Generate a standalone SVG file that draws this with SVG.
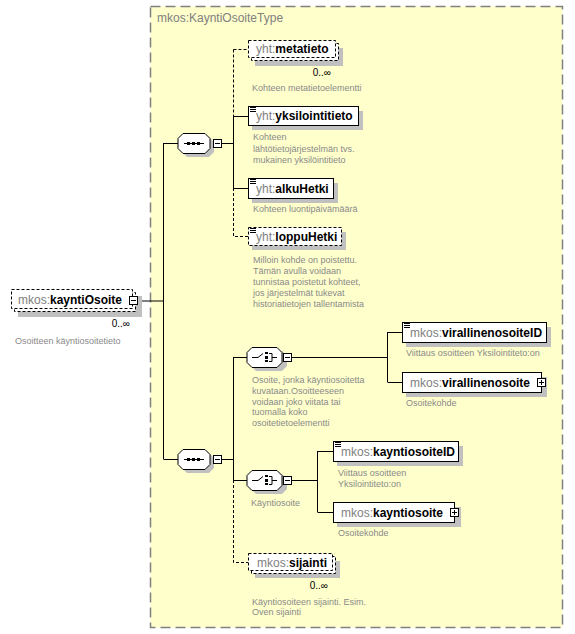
<svg xmlns="http://www.w3.org/2000/svg" width="575" height="634" viewBox="0 0 575 634">
<defs>
<style>
.bg{fill:#ffffff}
.typebox{fill:#FFFFCC;stroke:#808080;stroke-width:1.5;stroke-dasharray:10,5}
.tlabel{font:12px "Liberation Sans",Arial,sans-serif;fill:#808080}
.box{fill:#ffffff;stroke:#000000;stroke-width:1}
.dbox{fill:#ffffff;stroke:#000000;stroke-width:1;stroke-dasharray:3,2}
.shadow{fill:#c0c0c0}
.nm{font:bold 12px "Liberation Sans",Arial,sans-serif;fill:#000000}
.pfx{font-weight:normal;fill:#808080}
.desc{font:9px "Liberation Sans",Arial,sans-serif;fill:#8a8a8a}
.occ{font:10px "Liberation Sans",Arial,sans-serif;fill:#000000}
.conn{stroke:#000000;stroke-width:1;fill:none}
.dash{stroke-dasharray:3,2}
.ico{stroke:#000000;stroke-width:1;fill:none}
.dot{fill:#000000}
</style>
</defs>
<rect class="bg" x="0" y="0" width="575" height="634"/>

<g id="type-KayntiOsoiteType">
<rect class="typebox" x="150.5" y="6.5" width="412" height="621"/>
<text class="tlabel" x="157" y="22">mkos:KayntiOsoiteType</text>
</g>

<g id="connectors">
<path class="conn" d="M138.5 301H163.5M163.5 143V459M163.5 143.5H178M163.5 459.5H178"/>
<path class="conn" d="M210 143.5H213.5M221.5 143.5H233.5M233.5 116V188M233.5 116.5H248M233.5 188.5H248"/>
<path class="conn dash" d="M233.5 49.5V116M233.5 49.5H248M233.5 188V236.5H248"/>
<path class="conn" d="M210 459.5H213.5M221.5 459.5H233.5M233.5 357V480M233.5 357.5H247M233.5 480.5H247"/>
<path class="conn dash" d="M233.5 480V562.5H248"/>
<path class="conn" d="M282 357.5H283.5M291.5 357.5H387.5M387.5 332V382M387.5 332.5H402M387.5 382.5H402"/>
<path class="conn" d="M282 480.5H283.5M291.5 480.5H317.5M317.5 451V512M317.5 451.5H333M317.5 512.5H333"/>
</g>

<g id="el-kayntiOsoite">
<rect class="shadow" x="18" y="296" width="124" height="21"/>
<rect class="dbox" x="14.5" y="292.5" width="121" height="19"/>
<rect class="dbox" x="11.5" y="289.5" width="121" height="19"/>
<text class="nm" x="18" y="304"><tspan class="pfx">mkos:</tspan>kayntiOsoite</text>
<rect class="box" x="129.5" y="296.5" width="8" height="8"/>
<path class="ico" d="M131 300.5H136"/>
<text class="occ" x="130" y="327" text-anchor="end">0..∞</text>
<text class="desc" x="15" y="344">Osoitteen käyntiosoitetieto</text>
</g>

<g id="seq-1">
<path class="shadow" d="M187 137H209L214 142V152L209 157H187L182 152V142Z"/>
<path class="box" d="M183 133.5H205L210 138.5V148.5L205 153.5H183L178 148.5V138.5Z"/>
<path class="ico" d="M184 143.5H204"/>
<rect class="dot" x="187" y="142" width="3" height="3"/>
<rect class="dot" x="192" y="142" width="3" height="3"/>
<rect class="dot" x="197" y="142" width="3" height="3"/>
<rect class="box" x="213.5" y="139.5" width="8" height="8"/>
<path class="ico" d="M215 143.5H220"/>
</g>

<g id="el-metatieto">
<rect class="shadow" x="255" y="48" width="88" height="18"/>
<rect class="dbox" x="251.5" y="43.5" width="87" height="17"/>
<rect class="dbox" x="248.5" y="40.5" width="87" height="17"/>
<text class="nm" x="256" y="53"><tspan class="pfx">yht:</tspan>metatieto</text>
<text class="occ" x="331" y="76" text-anchor="end">0..∞</text>
<text class="desc" x="252" y="91">Kohteen metatietoelementti</text>
</g>

<g id="el-yksilointitieto">
<rect class="shadow" x="252" y="111" width="111" height="19"/>
<rect class="box" x="248.5" y="106.5" width="110" height="19"/>
<path class="ico" d="M250 107.5H256M250 109.5H256M250 111.5H256"/>
<text class="nm" x="256" y="120"><tspan class="pfx">yht:</tspan>yksilointitieto</text>
<text class="desc" x="253" y="140">Kohteen</text>
<text class="desc" x="253" y="152">lähtötietojärjestelmän  tvs.</text>
<text class="desc" x="253" y="163">mukainen yksilöintitieto</text>
</g>

<g id="el-alkuHetki">
<rect class="shadow" x="252" y="183" width="86" height="20"/>
<rect class="box" x="248.5" y="178.5" width="85" height="20"/>
<path class="ico" d="M250 179.5H256M250 181.5H256M250 183.5H256"/>
<text class="nm" x="256" y="193"><tspan class="pfx">yht:</tspan>alkuHetki</text>
<text class="desc" x="253" y="212">Kohteen luontipäivämäärä</text>
</g>

<g id="el-loppuHetki">
<rect class="shadow" x="252" y="232" width="94" height="18"/>
<rect class="dbox" x="248.5" y="227.5" width="93" height="18"/>
<path class="ico" d="M250 228.5H256M250 230.5H256M250 232.5H256"/>
<text class="nm" x="256" y="241"><tspan class="pfx">yht:</tspan>loppuHetki</text>
<text class="desc" x="253" y="263">Milloin kohde on poistettu.</text>
<text class="desc" x="253" y="274">Tämän avulla voidaan</text>
<text class="desc" x="253" y="285">tunnistaa poistetut kohteet,</text>
<text class="desc" x="253" y="296">jos järjestelmät tukevat</text>
<text class="desc" x="253" y="307">historiatietojen tallentamista</text>
</g>

<g id="seq-2">
<path class="shadow" d="M187 453H209L214 458V468L209 473H187L182 468V458Z"/>
<path class="box" d="M183 449.5H205L210 454.5V464.5L205 469.5H183L178 464.5V454.5Z"/>
<path class="ico" d="M184 459.5H204"/>
<rect class="dot" x="187" y="458" width="3" height="3"/>
<rect class="dot" x="192" y="458" width="3" height="3"/>
<rect class="dot" x="197" y="458" width="3" height="3"/>
<rect class="box" x="213.5" y="455.5" width="8" height="8"/>
<path class="ico" d="M215 459.5H220"/>
</g>

<g id="choice-1">
<path class="shadow" d="M256 351H282L287 356V366L282 371H256L251 366V356Z"/>
<path class="box" d="M252 347.5H277L282 352.5V362.5L277 367.5H252L247 362.5V352.5Z"/>
<path class="ico" d="M252 357.5H258L263 353.5M269 353.5H272V361.5H269M272 357.5H277"/>
<rect class="dot" x="265" y="352" width="3" height="2"/>
<rect class="dot" x="265" y="356" width="3" height="3"/>
<rect class="dot" x="265" y="360" width="3" height="2"/>
<rect class="box" x="283.5" y="353.5" width="8" height="8"/>
<path class="ico" d="M285 357.5H290"/>
<text class="desc" x="252" y="383">Osoite, jonka käyntiosoitetta</text>
<text class="desc" x="252" y="394">kuvataan.Osoitteeseen</text>
<text class="desc" x="252" y="405">voidaan joko viitata tai</text>
<text class="desc" x="252" y="415">tuomalla koko</text>
<text class="desc" x="252" y="426">osoitetietoelementti</text>
</g>

<g id="el-virallinenosoiteID">
<rect class="shadow" x="406" y="327" width="145" height="20"/>
<rect class="box" x="402.5" y="322.5" width="144" height="20"/>
<path class="ico" d="M404 323.5H410M404 325.5H410M404 327.5H410"/>
<text class="nm" x="410" y="337"><tspan class="pfx">mkos:</tspan>virallinenosoiteID</text>
<text class="desc" x="406" y="356">Viittaus osoitteen Yksilointiteto:on</text>
</g>

<g id="el-virallinenosoite">
<rect class="shadow" x="406" y="377" width="141" height="20"/>
<rect class="box" x="402.5" y="372.5" width="139" height="20"/>
<text class="nm" x="410" y="387"><tspan class="pfx">mkos:</tspan>virallinenosoite</text>
<rect class="box" x="537.5" y="378.5" width="8" height="8"/>
<path class="ico" d="M539 382.5H544M541.5 380V385"/>
<text class="desc" x="406" y="406">Osoitekohde</text>
</g>

<g id="choice-2">
<path class="shadow" d="M256 474H282L287 479V489L282 494H256L251 489V479Z"/>
<path class="box" d="M252 470.5H277L282 475.5V485.5L277 490.5H252L247 485.5V475.5Z"/>
<path class="ico" d="M252 480.5H258L263 476.5M269 476.5H272V484.5H269M272 480.5H277"/>
<rect class="dot" x="265" y="475" width="3" height="2"/>
<rect class="dot" x="265" y="479" width="3" height="3"/>
<rect class="dot" x="265" y="483" width="3" height="2"/>
<rect class="box" x="283.5" y="476.5" width="8" height="8"/>
<path class="ico" d="M285 480.5H290"/>
<text class="desc" x="251" y="506">Käyntiosoite</text>
</g>

<g id="el-kayntiosoiteID">
<rect class="shadow" x="337" y="446" width="126" height="20"/>
<rect class="box" x="333.5" y="441.5" width="125" height="20"/>
<path class="ico" d="M335 442.5H341M335 444.5H341M335 446.5H341"/>
<text class="nm" x="341" y="456"><tspan class="pfx">mkos:</tspan>kayntiosoiteID</text>
<text class="desc" x="338" y="476">Viittaus osoitteen</text>
<text class="desc" x="338" y="487">Yksilointiteto:on</text>
</g>

<g id="el-kayntiosoite">
<rect class="shadow" x="337" y="507" width="124" height="20"/>
<rect class="box" x="333.5" y="502.5" width="121" height="20"/>
<text class="nm" x="341" y="517"><tspan class="pfx">mkos:</tspan>kayntiosoite</text>
<rect class="box" x="450.5" y="508.5" width="8" height="8"/>
<path class="ico" d="M452 512.5H457M454.5 510V515"/>
<text class="desc" x="338" y="536">Osoitekohde</text>
</g>

<g id="el-sijainti">
<rect class="shadow" x="255" y="561" width="85" height="17"/>
<rect class="dbox" x="251.5" y="556.5" width="84" height="17"/>
<rect class="dbox" x="248.5" y="553.5" width="84" height="17"/>
<text class="nm" x="257" y="567"><tspan class="pfx">mkos:</tspan>sijainti</text>
<text class="occ" x="328" y="589" text-anchor="end">0..∞</text>
<text class="desc" x="252" y="605">Käyntiosoiteen sijainti. Esim.</text>
<text class="desc" x="252" y="615">Oven sijainti</text>
</g>
</svg>
